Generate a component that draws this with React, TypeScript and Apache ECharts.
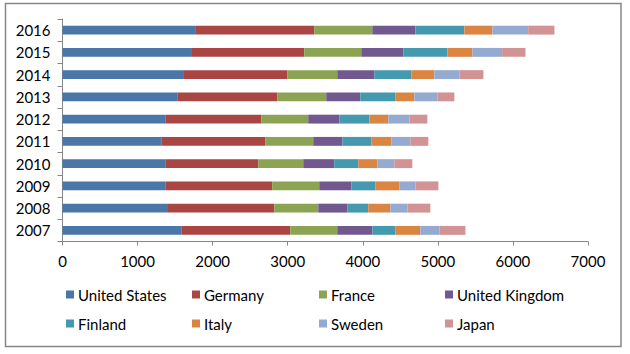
import React, { useEffect, useRef } from "react";
import * as echarts from "echarts";

const years = ["2007", "2008", "2009", "2010", "2011", "2012", "2013", "2014", "2015", "2016"];
const seriesNames = ["United States", "Germany", "France", "United Kingdom", "Finland", "Italy", "Sweden", "Japan"];
const unitedStates = [1589, 1393, 1376, 1376, 1322, 1376, 1536, 1607, 1713, 1767];
const germany = [1444, 1427, 1417, 1231, 1378, 1271, 1324, 1386, 1507, 1586];
const france = [627, 587, 627, 600, 640, 626, 653, 667, 760, 774];
const unitedKingdom = [467, 386, 427, 413, 387, 414, 454, 493, 560, 573];
const finland = [306, 280, 320, 320, 386, 400, 466, 494, 587, 653];
const italy = [334, 294, 320, 253, 267, 253, 254, 306, 333, 374];
const sweden = [257, 230, 217, 227, 253, 284, 306, 334, 396, 476];
const japan = [343, 303, 303, 240, 240, 236, 227, 320, 311, 350];
const xTicks = { min: 0, max: 7000, interval: 1000 };

const colors = ["#4A76A8", "#A94644", "#8BA353", "#71598F", "#4599AF", "#DB8542", "#95AAD0", "#D19393"];
const allData = [unitedStates, germany, france, unitedKingdom, finland, italy, sweden, japan];

const FONT = "Lato";

export default function App() {
  const ref = useRef<HTMLDivElement>(null);
  useEffect(() => {
    if (!ref.current) return;
    const chart = echarts.init(ref.current, null, { renderer: "svg" });
    const legendPos = [
      [66, 287], [192, 287], [319, 287], [445, 287],
      [66, 316], [192, 316], [319, 316], [445, 316],
    ];
    chart.setOption({
      animation: false,
      backgroundColor: "#ffffff",
      color: colors,
      textStyle: { fontFamily: FONT },
      grid: { left: 62.5, right: 42, top: 19, bottom: 112.5, containLabel: false },
      xAxis: {
        type: "value",
        min: xTicks.min,
        max: xTicks.max,
        interval: xTicks.interval,
        splitLine: { show: false },
        axisLine: { show: true, lineStyle: { color: "#868686", width: 1 } },
        axisTick: { show: true, length: 4, lineStyle: { color: "#868686" } },
        axisLabel: {
          color: "#000",
          fontSize: 15,
          fontFamily: FONT,
          margin: 12,
          formatter: (v: number) => String(v),
        },
      },
      yAxis: {
        type: "category",
        data: years,
        axisLine: { show: true, lineStyle: { color: "#868686", width: 1 } },
        axisTick: { show: true, length: 5, alignWithLabel: false, lineStyle: { color: "#868686" } },
        axisLabel: { color: "#000", fontSize: 15, fontFamily: FONT, margin: 12 },
      },
      legend: seriesNames.map((name, i) => ({
        data: [name],
        left: legendPos[i][0],
        top: legendPos[i][1],
        itemWidth: 8,
        itemHeight: 8,
        itemGap: 5,
        padding: 0,
        icon: "rect",
        selectedMode: false,
        textStyle: { color: "#000", fontSize: 15, fontFamily: FONT, padding: [0, 0, 0, -1] },
      })),
      graphic: [
        {
          type: "rect",
          shape: { x: 5.5, y: 3.5, width: 615.5, height: 343 },
          style: { fill: "none", stroke: "#868686", lineWidth: 1.5 },
          silent: true,
          z: 100,
        },
      ],
      series: seriesNames.map((name, i) => ({
        name,
        type: "bar",
        stack: "total",
        data: allData[i],
        barCategoryGap: "60%",
        itemStyle: { color: colors[i] },
      })),
    });
    return () => chart.dispose();
  }, []);
  return (
    <div
      ref={ref}
      style={{ position: "fixed", left: 0, top: 0, width: 630, height: 354 }}
    />
  );
}
